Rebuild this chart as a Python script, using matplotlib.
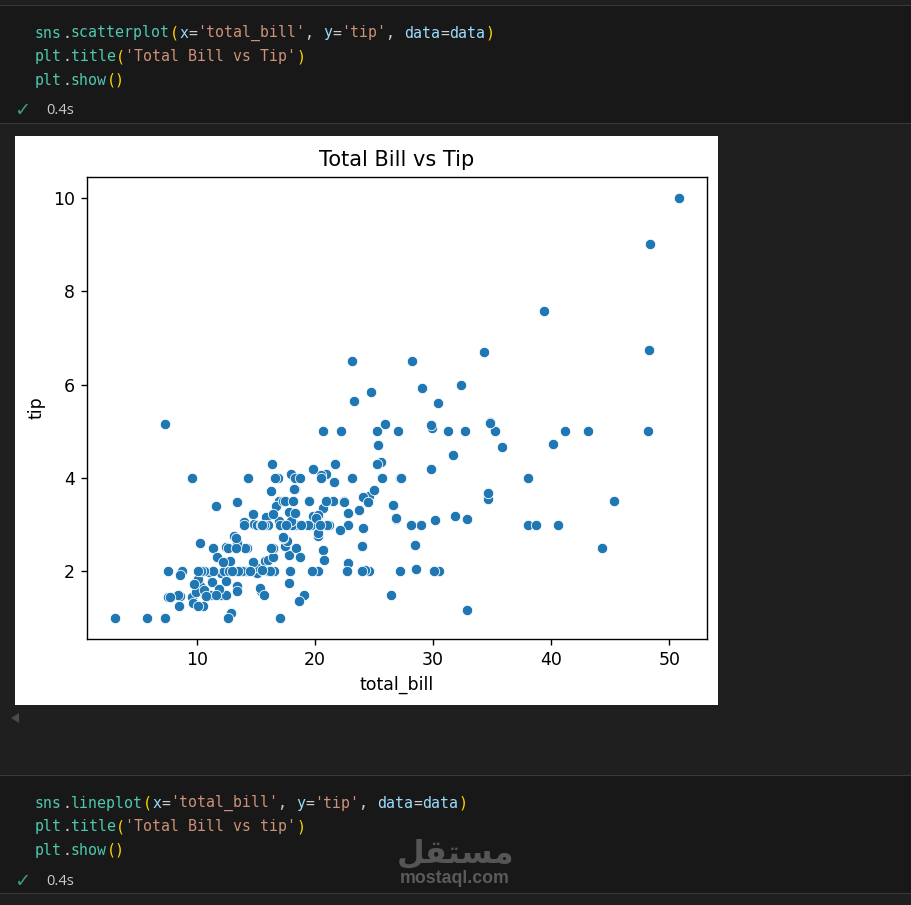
import numpy as np
import matplotlib
matplotlib.use('Agg')
import matplotlib.pyplot as plt
from matplotlib.patches import Rectangle, Polygon

# tips data (total_bill, tip)
total_bill = [
    16.99, 10.34, 21.01, 23.68, 24.59, 25.29, 8.77, 26.88, 15.04, 14.78,
    10.27, 35.26, 15.42, 18.43, 14.83, 21.58, 10.33, 16.29, 16.97, 20.65,
    17.92, 20.29, 15.77, 39.42, 19.82, 17.81, 13.37, 12.69, 21.70, 19.65,
    9.55, 18.35, 15.06, 20.69, 17.78, 24.06, 16.31, 16.93, 18.69, 31.27,
    16.04, 17.46, 13.94, 9.68, 30.40, 18.29, 22.23, 32.40, 28.55, 18.04,
    12.54, 10.29, 34.81, 9.94, 25.56, 19.49, 38.01, 26.41, 11.24, 48.27,
    20.29, 13.81, 11.02, 18.29, 17.59, 20.08, 16.45, 3.07, 20.23, 15.01,
    12.02, 17.07, 26.86, 25.28, 14.73, 10.51, 17.92, 27.20, 22.76, 17.29,
    19.44, 16.66, 10.07, 32.68, 15.98, 34.83, 13.03, 18.28, 24.71, 21.16,
    28.97, 22.49, 5.75, 16.32, 22.75, 40.17, 27.28, 12.03, 21.01, 12.46,
    11.35, 15.38, 44.30, 22.42, 20.92, 15.36, 20.49, 25.21, 18.24, 14.31,
    14.00, 7.25, 38.07, 23.95, 25.71, 17.31, 29.93, 10.65, 12.43, 24.08,
    11.69, 13.42, 14.26, 15.95, 12.48, 29.80, 8.52, 14.52, 11.38, 22.82,
    19.08, 20.27, 11.17, 12.26, 18.26, 8.51, 10.33, 14.15, 16.00, 13.16,
    17.47, 34.30, 41.19, 27.05, 16.43, 8.35, 18.64, 11.87, 9.78, 7.51,
    14.07, 13.13, 17.26, 24.55, 19.77, 29.85, 48.17, 25.00, 13.39, 16.49,
    21.50, 12.66, 16.21, 13.81, 17.51, 24.52, 20.76, 31.71, 10.59, 10.63,
    50.81, 15.81, 7.25, 31.85, 16.82, 32.90, 17.89, 14.48, 9.60, 34.63,
    34.65, 23.33, 45.35, 23.17, 40.55, 20.69, 20.90, 30.46, 18.15, 23.10,
    15.69, 19.81, 28.44, 15.48, 16.58, 7.56, 10.34, 43.11, 13.00, 13.51,
    18.71, 12.74, 13.00, 16.40, 20.53, 16.47, 26.59, 38.73, 24.27, 12.76,
    30.06, 25.89, 48.33, 13.27, 28.17, 12.90, 28.15, 11.59, 7.74, 30.14,
    12.16, 13.42, 8.58, 15.98, 13.42, 16.27, 10.09, 20.45, 13.28, 22.12,
    24.01, 15.69, 11.61, 10.77, 15.53, 10.07, 12.60, 32.83, 35.83, 29.03,
    27.18, 22.67, 17.82, 18.78,
]
tip = [
    1.01, 1.66, 3.50, 3.31, 3.61, 4.71, 2.00, 3.12, 1.96, 3.23,
    1.71, 5.00, 1.57, 3.00, 3.02, 3.92, 1.67, 3.71, 3.50, 3.35,
    4.08, 2.75, 2.23, 7.58, 3.18, 2.34, 2.00, 2.00, 4.30, 3.00,
    1.45, 2.50, 3.00, 2.45, 3.27, 3.60, 2.00, 3.07, 2.31, 5.00,
    2.24, 2.54, 3.06, 1.32, 5.60, 3.00, 5.00, 6.00, 2.05, 3.00,
    2.50, 2.60, 5.20, 1.56, 4.34, 3.51, 3.00, 1.50, 1.76, 6.73,
    3.21, 2.00, 1.98, 3.76, 2.64, 3.15, 2.47, 1.00, 2.01, 2.09,
    1.97, 3.00, 3.14, 5.00, 2.20, 1.25, 3.08, 4.00, 3.00, 2.71,
    3.00, 3.40, 1.83, 5.00, 2.03, 5.17, 2.00, 4.00, 5.85, 3.00,
    3.00, 3.50, 1.00, 4.30, 3.25, 4.73, 4.00, 1.50, 3.00, 1.50,
    2.50, 3.00, 2.50, 3.48, 4.08, 1.64, 4.06, 4.29, 3.76, 4.00,
    3.00, 1.00, 4.00, 2.55, 4.00, 3.50, 5.07, 1.50, 1.80, 2.92,
    2.31, 1.68, 2.50, 2.00, 2.52, 4.20, 1.48, 2.00, 2.00, 2.18,
    1.50, 2.83, 1.50, 2.00, 3.25, 1.25, 2.00, 2.00, 2.00, 2.75,
    3.50, 6.70, 5.00, 5.00, 2.30, 1.50, 1.36, 1.63, 1.73, 2.00,
    2.50, 2.00, 2.74, 2.00, 2.00, 5.14, 5.00, 3.75, 2.61, 2.00,
    3.50, 2.50, 2.00, 2.00, 3.00, 3.48, 2.24, 4.50, 1.61, 2.00,
    10.00, 3.16, 5.15, 3.18, 4.00, 3.11, 2.00, 2.00, 4.00, 3.55,
    3.68, 5.65, 3.50, 6.50, 3.00, 5.00, 3.50, 2.00, 3.50, 4.00,
    1.50, 4.19, 2.56, 2.02, 4.00, 1.44, 2.00, 5.00, 2.00, 2.00,
    4.00, 2.01, 2.00, 2.50, 4.00, 3.23, 3.41, 3.00, 2.03, 2.23,
    2.00, 5.16, 9.00, 2.50, 6.50, 1.10, 3.00, 1.50, 1.44, 3.09,
    2.20, 3.48, 1.92, 3.00, 1.58, 2.50, 2.00, 3.00, 2.72, 2.88,
    2.00, 3.00, 3.39, 1.47, 3.00, 1.25, 1.00, 1.17, 4.67, 5.92,
    2.00, 2.00, 1.75, 3.00,
]

chart_title = 'Total Bill vs Tip'
x_label = 'total_bill'
y_label = 'tip'

W, H = 912, 905
BG = '#1f1f1f'
CELL_BG = '#181818'
SEP = '#3a3a3a'

TEAL = '#4ec9b0'
PUNC = '#cccccc'
PAREN = '#ffd700'
VAR = '#9cdcfe'
STR = '#ce9178'

cell1 = [
    [('sns', TEAL), ('.', PUNC), ('scatterplot', TEAL), ('(', PAREN), ('x', VAR), ('=', PUNC),
     ("'total_bill'", STR), (', ', PUNC), ('y', VAR), ('=', PUNC), ("'tip'", STR), (', ', PUNC),
     ('data', VAR), ('=', PUNC), ('data', VAR), (')', PAREN)],
    [('plt', TEAL), ('.', PUNC), ('title', TEAL), ('(', PAREN), ("'Total Bill vs Tip'", STR), (')', PAREN)],
    [('plt', TEAL), ('.', PUNC), ('show', TEAL), ('()', PAREN)],
]
cell2 = [
    [('sns', TEAL), ('.', PUNC), ('lineplot', TEAL), ('(', PAREN), ('x', VAR), ('=', PUNC),
     ("'total_bill'", STR), (', ', PUNC), ('y', VAR), ('=', PUNC), ("'tip'", STR), (', ', PUNC),
     ('data', VAR), ('=', PUNC), ('data', VAR), (')', PAREN)],
    [('plt', TEAL), ('.', PUNC), ('title', TEAL), ('(', PAREN), ("'Total Bill vs tip'", STR), (')', PAREN)],
    [('plt', TEAL), ('.', PUNC), ('show', TEAL), ('()', PAREN)],
]


def fx(px):
    return px / W


def fy(py):
    return 1 - py / H


fig = plt.figure(figsize=(W / 100, H / 100), dpi=100, facecolor=BG)


def band(y0, y1, color):
    fig.add_artist(Rectangle((0, fy(y1)), 1, fy(y0) - fy(y1), transform=fig.transFigure,
                             facecolor=color, edgecolor='none', zorder=0))


def hline(y):
    fig.add_artist(Rectangle((0, fy(y + 1)), 1, 1.3 / H, transform=fig.transFigure,
                             facecolor=SEP, edgecolor='none', zorder=1))


CW = 9.0  # monospace char width in px


def draw_cell(lines, y_first, y_time):
    for i, toks in enumerate(lines):
        x = 35
        y = y_first + i * 23.6
        for txt, col in toks:
            fig.text(fx(x), fy(y), txt, color=col, fontsize=10.75, family='DejaVu Sans Mono',
                     ha='left', va='center')
            x += len(txt) * CW
    fig.text(fx(14), fy(y_time), '\u2713', color='#3d9c6c', fontsize=14, ha='left', va='center')
    fig.text(fx(46), fy(y_time), '0.4s', color='#cccccc', fontsize=10.5, family='Open Sans',
             ha='left', va='center')


band(6, 124, CELL_BG)
hline(5)
hline(123)
band(776, 894, CELL_BG)
hline(775)
hline(893)

draw_cell(cell1, 33, 110)
draw_cell(cell2, 803, 881)

# white output image
fig.add_artist(Rectangle((fx(15), fy(705)), fx(718) - fx(15), fy(136) - fy(705),
                         transform=fig.transFigure, facecolor='white', edgecolor='none', zorder=1))

# small scroll arrow
fig.add_artist(Polygon([[fx(11), fy(718)], [fx(19), fy(713)], [fx(19), fy(723)]], closed=True,
                       transform=fig.transFigure, facecolor='#4a4a4a', edgecolor='none', zorder=1))

# scatter chart (scaled 1.25x like the screenshot)
k = 1.25
ax = fig.add_axes([fx(87), fy(639), fx(707) - fx(87), fy(176.7) - fy(639)])
ax.set_zorder(3)
ax.scatter(total_bill, tip, s=36 * k * k, color='#1f77b4', edgecolor='white', linewidth=0.48 * k)
ax.set_title(chart_title, fontsize=12 * k, pad=6 * k)
ax.set_xlabel(x_label, fontsize=10 * k, labelpad=4 * k)
ax.set_ylabel(y_label, fontsize=10 * k, labelpad=4 * k)
ax.set_xticks([10, 20, 30, 40, 50])
ax.set_yticks([2, 4, 6, 8, 10])
ax.tick_params(labelsize=10 * k, length=3.5 * k, width=0.8 * k, pad=3.5 * k)
for sp in ax.spines.values():
    sp.set_linewidth(0.8 * k)

# watermark
wm = '\uFEDE\uFED8\uFE98\uFEB4\uFEE3'
fig.text(fx(456), fy(854), wm, color='#555555', fontsize=23, family='DejaVu Sans',
         fontweight='bold', ha='center', va='center')
fig.text(fx(455), fy(878), 'mostaql.com', color='#5a5a5a', fontsize=12.8,
         family='Liberation Sans', fontweight='bold', ha='center', va='center')

fig.savefig('out.png', dpi=100, facecolor=BG)
